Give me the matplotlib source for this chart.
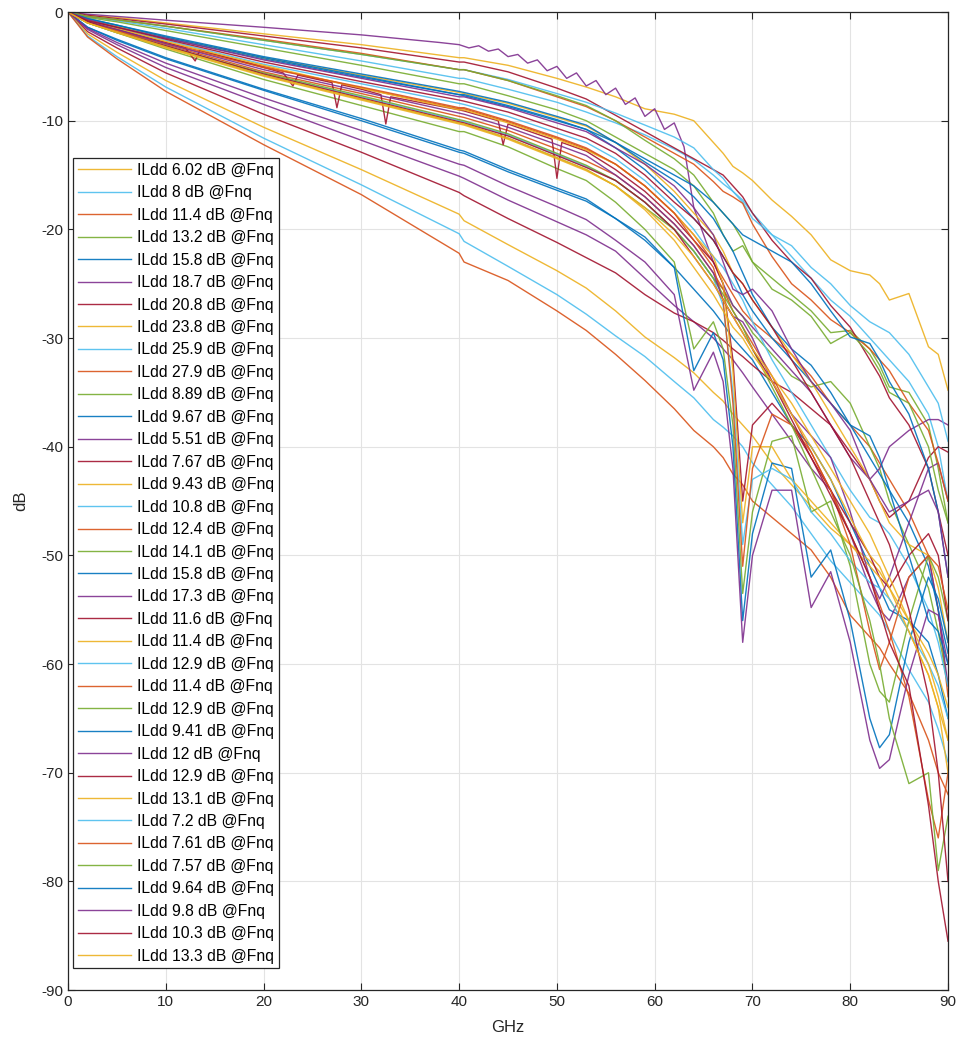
import matplotlib
matplotlib.use("Agg")
import matplotlib.pyplot as plt

plt.rcParams['font.family'] = ['Liberation Sans', 'DejaVu Sans']
plt.rcParams['axes.unicode_minus'] = False

# frequency grid (GHz) shared by most traces
freq_ghz = [0, 2, 5, 10, 20, 30, 40, 40.5, 45, 50, 53,
            56, 59, 62, 64, 66, 67, 68, 69, 70, 72, 74, 76, 78, 80, 82, 83, 84, 86, 88, 89, 90]
# finer grids for the two traces with visible ripple / spikes
freq_ghz_13 = [0, 2, 5, 10, 20, 30, 38, 40, 41, 42, 43, 44, 45, 46, 47, 48, 49, 50, 51, 52,
               53, 54, 55, 56, 57, 58, 59, 60, 61, 62, 63, 64, 66, 67, 68, 69, 70, 72, 74, 76,
               78, 80, 82, 83, 84, 86, 88, 89, 90]
freq_ghz_21 = [0, 2, 5, 10, 12, 13, 13.5, 20, 22, 23, 23.5, 27, 27.5, 28, 30, 32, 32.5, 33,
               40, 40.5, 44, 44.5, 45, 49.5, 50, 50.5, 53,
               56, 59, 62, 64, 66, 67, 68, 69, 70, 72, 74, 76, 78, 80, 82, 83, 84, 86, 88, 89, 90]

il_01 = [0, -0.3, -0.5, -1.0, -2.0, -3.0, -4.2, -4.2, -4.9, -6.1, -6.9,
         -7.8, -8.9, -9.4, -10.0, -12.0, -13.0, -14.2, -14.8, -15.5, -17.3, -18.8, -20.5, -22.8, -23.8, -24.2, -25.0, -26.5, -25.9, -30.8, -31.5, -34.8]
il_02 = [0, -0.4, -0.8, -1.5, -3.0, -4.5, -6.1, -6.1, -7.1, -8.3, -9.2,
         -10.2, -11.3, -12.6, -13.6, -15.0, -15.8, -16.5, -17.3, -18.5, -20.5, -22.5, -24.5, -26.5, -28.0, -30.0, -31.0, -32.0, -34.0, -37.0, -40.0, -45.0]
il_03 = [0, -0.8, -1.6, -2.8, -5.0, -7.0, -8.9, -8.9, -10.1, -11.6, -12.6,
         -14.0, -16.0, -18.5, -20.5, -23.0, -24.5, -26.0, -27.5, -28.5, -30.0, -31.5, -33.5, -36.0, -38.0, -40.0, -41.5, -43.0, -46.0, -50.0, -55.0, -63.0]
il_04 = [0, -1.0, -1.8, -3.2, -5.8, -8.0, -10.2, -10.3, -11.6, -13.4, -14.5,
         -16.0, -18.0, -20.0, -22.0, -24.5, -25.5, -27.0, -28.0, -29.5, -31.5, -33.5, -34.5, -34.0, -36.0, -40.0, -42.0, -45.0, -49.0, -53.0, -57.0, -62.0]
il_05 = [0, -1.4, -2.6, -4.3, -7.2, -10.0, -12.9, -13.0, -14.7, -16.4, -17.4,
         -19.0, -21.0, -23.5, -25.5, -27.5, -28.7, -30.0, -31.0, -32.0, -35.0, -38.0, -40.0, -43.0, -47.0, -51.0, -53.0, -55.0, -56.0, -58.0, -61.0, -65.0]
il_06 = [0, -1.6, -3.0, -5.1, -8.5, -11.8, -15.1, -15.3, -17.3, -19.3, -20.5,
         -22.0, -24.5, -27.0, -28.5, -30.0, -31.0, -32.0, -33.2, -34.5, -37.0, -39.5, -42.0, -44.0, -48.0, -53.0, -55.0, -56.0, -52.0, -50.0, -55.0, -62.0]
il_07 = [0, -1.8, -3.3, -5.6, -9.4, -12.9, -16.6, -16.9, -19.0, -21.2, -22.6,
         -24.0, -26.0, -27.7, -28.5, -29.5, -30.2, -31.0, -31.7, -32.5, -34.0, -35.0, -36.5, -38.0, -40.5, -43.0, -45.0, -46.5, -45.0, -41.0, -40.0, -40.5]
il_08 = [0, -2.0, -3.7, -6.3, -10.6, -14.5, -18.6, -19.2, -21.4, -23.8, -25.4,
         -27.5, -29.9, -31.8, -33.2, -35.0, -35.8, -37.0, -38.0, -39.0, -41.5, -43.5, -45.5, -47.5, -49.0, -50.5, -51.5, -53.0, -56.0, -59.0, -61.0, -64.0]
il_09 = [0, -2.2, -4.1, -6.9, -11.6, -15.9, -20.4, -21.1, -23.4, -26.0, -27.8,
         -29.8, -31.7, -34.0, -35.5, -37.5, -38.2, -39.0, -40.0, -41.5, -43.5, -45.5, -48.0, -50.5, -52.5, -54.5, -55.5, -57.0, -60.5, -63.5, -66.0, -69.0]
il_10 = [0, -2.3, -4.3, -7.3, -12.2, -16.8, -22.2, -23.0, -24.7, -27.5, -29.3,
         -31.5, -33.9, -36.5, -38.5, -40.0, -41.0, -42.5, -43.5, -45.0, -46.5, -48.0, -49.5, -52.0, -55.5, -57.5, -58.5, -60.0, -62.7, -67.0, -70.0, -72.0]
il_11 = [0, -0.5, -0.9, -1.7, -3.3, -4.9, -6.6, -6.6, -7.7, -9.0, -10.0,
         -11.5, -13.0, -14.5, -16.0, -18.5, -20.5, -22.0, -21.5, -23.0, -24.5, -26.0, -27.5, -29.5, -29.3, -31.0, -32.5, -34.5, -35.0, -38.0, -42.0, -47.0]
il_12 = [0, -0.7, -1.3, -2.4, -4.3, -6.0, -7.6, -7.7, -8.7, -10.0, -10.8,
         -12.5, -14.5, -17.0, -19.0, -21.0, -22.5, -24.0, -26.0, -27.5, -30.0, -32.0, -34.0, -36.0, -38.0, -41.0, -42.5, -44.0, -47.0, -51.0, -55.0, -59.0]
il_13 = [0, -0.2, -0.4, -0.75, -1.4, -2.1, -2.8, -3.0, -3.3, -3.1, -3.6, -3.4, -4.1, -3.9, -4.7, -4.4,
         -5.4, -5.0, -6.1, -5.6, -6.8, -6.3, -7.6, -7.0, -8.5, -7.9, -9.6, -8.9, -10.8, -10.2, -12.4,
         -18.0, -23.0, -25.0, -27.0, -28.0, -29.0, -31.0, -33.0, -35.0, -38.0, -41.0, -43.0, -42.0,
         -40.0, -38.5, -37.5, -37.5, -38.0]
il_14 = [0, -0.3, -0.6, -1.1, -2.2, -3.3, -4.6, -4.6, -5.5, -7.0, -8.0,
         -9.5, -11.0, -12.5, -13.5, -14.5, -15.0, -16.0, -17.0, -18.5, -21.0, -23.0, -24.5, -27.0, -29.0, -32.0, -33.5, -35.5, -38.0, -42.0, -46.0, -50.0]
il_15 = [0, -0.7, -1.3, -2.3, -4.2, -5.8, -7.4, -7.5, -8.4, -9.7, -10.5,
         -12.0, -14.0, -16.5, -18.5, -20.5, -22.0, -24.0, -25.0, -26.5, -29.0, -31.5, -34.0, -37.0, -40.0, -43.0, -45.0, -47.0, -49.0, -50.0, -53.0, -58.0]
il_16 = [0, -0.8, -1.5, -2.6, -4.8, -6.6, -8.4, -8.5, -9.6, -11.1, -12.0,
         -13.5, -15.5, -18.0, -20.0, -22.5, -23.5, -25.0, -26.5, -28.5, -32.0, -35.0, -38.0, -41.0, -44.0, -46.5, -47.0, -48.0, -51.0, -55.0, -58.0, -62.0]
il_17 = [0, -0.9, -1.7, -3.0, -5.5, -7.5, -9.6, -9.7, -10.9, -12.6, -13.7,
         -15.0, -17.0, -19.5, -21.5, -24.0, -25.5, -27.5, -29.0, -30.5, -33.5, -37.0, -40.5, -44.0, -48.0, -52.0, -54.5, -57.0, -63.0, -72.5, -76.0, -70.0]
il_18 = [0, -1.0, -1.9, -3.4, -6.2, -8.6, -11.0, -11.0, -12.4, -14.4, -15.5,
         -17.5, -20.0, -23.0, -31.0, -28.5, -31.0, -38.0, -53.5, -46.0, -39.5, -39.0, -46.0, -45.0, -51.0, -60.0, -62.5, -63.5, -56.0, -50.0, -52.0, -56.0]
il_19 = [0, -1.4, -2.5, -4.2, -7.1, -9.8, -12.7, -12.8, -14.5, -16.2, -17.2,
         -19.0, -20.7, -23.5, -33.0, -29.5, -32.0, -40.0, -56.0, -48.0, -41.5, -42.0, -52.0, -49.5, -56.0, -65.0, -67.7, -66.5, -58.0, -52.0, -54.0, -58.0]
il_20 = [0, -1.5, -2.8, -4.7, -7.9, -10.9, -14.0, -14.1, -16.0, -17.9, -19.1,
         -21.0, -23.0, -26.0, -34.8, -31.3, -34.0, -42.0, -58.0, -50.0, -44.0, -44.0, -54.8, -51.5, -58.0, -67.0, -69.6, -68.8, -61.0, -55.0, -55.5, -60.0]
il_21 = [0, -0.9, -1.6, -2.8, -3.3, -4.5, -3.5, -5.1, -5.6, -6.8, -5.8, -6.5, -8.8, -6.7, -7.1,
         -7.6, -10.3, -7.8, -9.0, -9.1, -10.0, -12.2, -10.3, -11.7, -15.3, -12.0, -12.8,
         -14.5, -16.5, -19.0, -21.0, -23.0, -25.0, -32.0, -45.0, -38.0, -36.0, -38.0, -41.0, -44.0,
         -47.0, -50.0, -52.0, -53.0, -50.0, -48.0, -50.0, -56.0]
il_22 = [0, -0.7, -1.5, -2.7, -4.9, -7.0, -9.0, -9.0, -10.2, -11.7, -12.7,
         -14.0, -16.0, -18.5, -20.5, -22.5, -25.0, -33.0, -47.0, -40.0, -40.0, -43.0, -45.0, -47.0, -49.0, -51.0, -52.0, -54.0, -57.0, -61.0, -64.0, -67.0]
il_23 = [0, -0.9, -1.8, -3.1, -5.7, -7.8, -10.0, -10.1, -11.3, -13.1, -14.2,
         -15.5, -17.5, -20.0, -22.0, -24.5, -27.0, -35.0, -49.0, -43.0, -42.0, -43.0, -46.0, -48.0, -50.5, -52.5, -53.0, -54.0, -57.0, -60.0, -62.0, -65.0]
il_24 = [0, -0.9, -1.7, -2.9, -5.1, -6.9, -8.8, -8.8, -10.0, -11.5, -12.5,
         -14.0, -16.0, -18.5, -21.0, -23.5, -26.5, -36.0, -51.0, -42.0, -37.0, -38.0, -40.5, -44.0, -49.0, -57.0, -60.5, -58.0, -52.0, -50.0, -51.0, -55.0]
il_25 = [0, -1.0, -1.9, -3.2, -5.6, -7.7, -9.9, -10.0, -11.2, -13.0, -14.1,
         -15.5, -17.5, -20.0, -22.0, -24.5, -26.0, -27.5, -29.0, -31.0, -34.5, -38.0, -42.0, -46.0, -50.0, -56.0, -60.0, -65.0, -71.0, -70.0, -79.0, -74.0]
il_26 = [0, -0.6, -1.2, -2.2, -4.1, -5.7, -7.3, -7.4, -8.3, -9.6, -10.4,
         -12.0, -13.8, -15.5, -17.0, -19.0, -20.5, -22.0, -24.0, -26.0, -29.0, -31.0, -32.5, -35.0, -38.0, -39.0, -41.0, -44.0, -50.0, -56.0, -57.0, -60.0]
il_27 = [0, -0.9, -1.6, -2.9, -5.3, -7.3, -9.3, -9.4, -10.6, -12.2, -13.2,
         -15.0, -17.0, -19.5, -21.5, -24.0, -26.5, -28.0, -28.5, -30.0, -34.0, -37.0, -39.0, -41.0, -46.0, -52.0, -54.0, -52.0, -47.0, -42.0, -41.5, -45.0]
il_28 = [0, -0.9, -1.8, -3.1, -5.7, -7.9, -10.1, -10.2, -11.4, -13.2, -14.3,
         -15.5, -17.5, -20.0, -22.5, -25.0, -26.5, -28.0, -29.5, -31.0, -34.0, -37.5, -41.0, -44.5, -48.0, -52.0, -55.0, -58.0, -62.0, -73.0, -80.0, -85.5]
il_29 = [0, -1.0, -1.8, -3.2, -5.8, -8.0, -10.2, -10.3, -11.6, -13.4, -14.5,
         -16.0, -18.0, -20.5, -22.5, -25.0, -26.5, -28.0, -29.5, -31.0, -33.5, -36.0, -39.0, -42.0, -45.0, -48.0, -50.0, -52.0, -56.0, -60.0, -63.0, -67.0]
il_30 = [0, -0.4, -0.7, -1.3, -2.6, -3.9, -5.3, -5.3, -6.2, -7.5, -8.3,
         -9.3, -10.4, -11.5, -12.5, -14.5, -15.3, -16.5, -17.5, -19.0, -20.5, -21.5, -23.5, -25.0, -27.0, -28.5, -29.0, -29.5, -31.5, -34.5, -36.0, -39.5]
il_31 = [0, -0.4, -0.7, -1.3, -2.5, -3.8, -5.3, -5.3, -6.3, -7.8, -8.7,
         -10.0, -11.5, -13.0, -14.0, -15.6, -16.5, -17.0, -17.6, -19.5, -22.5, -25.0, -26.5, -28.3, -29.5, -31.0, -32.0, -33.0, -36.0, -38.5, -41.5, -45.0]
il_32 = [0, -0.4, -0.7, -1.3, -2.6, -3.9, -5.3, -5.3, -6.3, -7.7, -8.6,
         -10.0, -11.8, -13.5, -15.0, -17.5, -18.5, -19.5, -21.0, -23.0, -25.5, -26.5, -28.0, -30.5, -29.5, -31.5, -33.0, -35.0, -36.0, -40.0, -44.0, -47.0]
il_33 = [0, -0.6, -1.2, -2.3, -4.2, -5.9, -7.6, -7.6, -8.6, -9.9, -10.8,
         -12.0, -13.5, -15.0, -16.0, -17.5, -18.5, -19.5, -20.5, -21.0, -22.0, -23.0, -25.0, -27.5, -29.9, -30.5, -32.0, -34.0, -37.0, -42.0, -46.0, -52.0]
il_34 = [0, -0.7, -1.4, -2.4, -4.4, -6.1, -7.8, -7.8, -8.8, -10.2, -11.0,
         -12.5, -14.0, -16.0, -18.0, -20.5, -23.0, -25.5, -26.0, -25.5, -27.5, -31.0, -34.0, -36.0, -38.5, -43.0, -44.5, -46.0, -45.0, -44.0, -46.0, -52.0]
il_35 = [0, -0.8, -1.4, -2.5, -4.6, -6.4, -8.1, -8.2, -9.2, -10.7, -11.6,
         -13.0, -15.0, -17.5, -19.0, -21.0, -22.5, -24.0, -25.0, -26.5, -29.0, -32.0, -35.0, -38.0, -41.0, -45.0, -47.0, -49.0, -55.0, -63.0, -70.0, -80.0]
il_36 = [0, -1.0, -1.9, -3.3, -5.9, -8.1, -10.3, -10.4, -11.7, -13.5, -14.6,
         -16.0, -18.2, -21.0, -23.5, -26.0, -27.5, -29.0, -30.0, -31.5, -34.0, -37.0, -40.0, -43.0, -46.5, -50.0, -51.0, -53.0, -57.0, -61.0, -64.0, -70.0]

series = [il_01, il_02, il_03, il_04, il_05, il_06, il_07, il_08, il_09, il_10,
          il_11, il_12, il_13, il_14, il_15, il_16, il_17, il_18, il_19, il_20,
          il_21, il_22, il_23, il_24, il_25, il_26, il_27, il_28, il_29, il_30,
          il_31, il_32, il_33, il_34, il_35, il_36]

fnq_loss = ["6.02", "8", "11.4", "13.2", "15.8", "18.7", "20.8", "23.8", "25.9", "27.9",
            "8.89", "9.67", "5.51", "7.67", "9.43", "10.8", "12.4", "14.1", "15.8", "17.3",
            "11.6", "11.4", "12.9", "11.4", "12.9", "9.41", "12", "12.9", "13.1", "7.2",
            "7.61", "7.57", "9.64", "9.8", "10.3", "13.3"]

color_cycle = ["#EDB120", "#4DBEEE", "#D95319", "#77AC30", "#0072BD", "#7E2F8E", "#A2142F"]

fig = plt.figure(figsize=(9.61, 10.4), dpi=100)
ax = fig.add_axes([0.0708, 0.048, 0.9157, 0.9404])

for i, (vals, lab) in enumerate(zip(series, fnq_loss)):
    if i == 12:
        fx = freq_ghz_13
    elif i == 20:
        fx = freq_ghz_21
    else:
        fx = freq_ghz
    ax.plot(fx, vals, color=color_cycle[i % 7], lw=1.0, alpha=0.9,
            label=f"ILdd {lab} dB @Fnq")

ax.set_xlim(0, 90)
ax.set_ylim(-90, 0)
ax.set_xticks(range(0, 91, 10))
ax.set_yticks(range(-90, 1, 10))
ax.grid(True, color="#e3e3e3", lw=0.8)
ax.set_axisbelow(True)
ax.tick_params(direction="in", length=5, top=True, right=True, labelsize=11,
               colors="#262626")
for s in ax.spines.values():
    s.set_color("#262626")
    s.set_linewidth(0.9)
ax.set_xlabel("GHz", fontsize=12, color="#262626", labelpad=8)
ax.set_ylabel("dB", fontsize=12, color="#262626", labelpad=9)

leg = ax.legend(loc="upper left", bbox_to_anchor=(0.0057, 0.8507), borderaxespad=0,
                fontsize=11.3, handlelength=3.4, handletextpad=0.4, labelspacing=0.475,
                borderpad=0.3, fancybox=False, framealpha=1, edgecolor="#262626")
leg.get_frame().set_linewidth(0.9)

fig.savefig("out.png", dpi=100)
